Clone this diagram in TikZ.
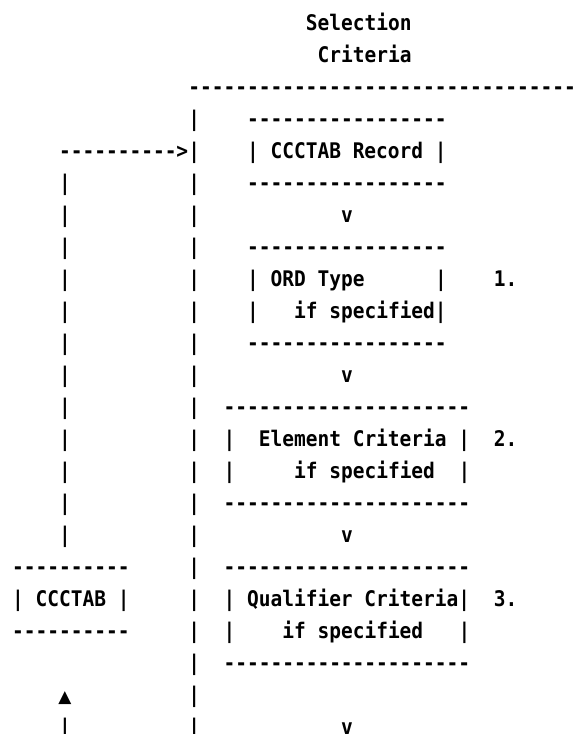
\documentclass[tikz,border=0pt]{standalone}
\usepackage{fontspec}
\setmonofont{DejaVu Sans Mono}[FakeStretch=0.907]
\newfontfamily\symfont{DejaVu Sans}
\tikzset{
  asc/.style={font=\ttfamily\bfseries\fontsize{21.5}{21.5}\selectfont, anchor=base west, inner sep=0pt, outer sep=0pt, text=black},
  tri/.style={font=\symfont\fontsize{17}{17}\selectfont, anchor=base, inner sep=0pt, outer sep=0pt, text=black}
}
\newcommand\asc[4]{\node[asc] (#1) at ({#2+1.03},{#3+0.9375}) {#4};}
\begin{document}
\begin{tikzpicture}[x=11.75pt, y=-32pt]
\fill[white] (0,0) rectangle (49.1064,22.9375);
\useasboundingbox (0,0) rectangle (49.1064,22.9375);
% title
\asc{sel}{25}{0}{Selection}
\asc{crit}{26}{1}{Criteria}
\asc{top}{15}{2}{---------------------------------}
% main vertical bar
\foreach \r in {3,...,22} {\asc{mb\r}{15}{\r}{|}}
% left vertical bar
\foreach \r in {5,...,16} {\asc{lb\r}{4}{\r}{|}}
\asc{lb22}{4}{22}{|}
\asc{arr}{4}{4}{---------->}
% CCCTAB Record box
\asc{b1t}{20}{3}{-----------------}
\asc{b1}{20}{4}{| CCCTAB Record |}
\asc{b1b}{20}{5}{-----------------}
\asc{v1}{28}{6}{v}
% ORD Type box
\asc{b2t}{20}{7}{-----------------}
\asc{b2a}{20}{8}{| ORD Type}
\asc{b2ar}{36}{8}{|}
\asc{n1}{41}{8}{1.}
\asc{b2bl}{20}{9}{|}
\asc{b2b}{24}{9}{if specified|}
\asc{b2e}{20}{10}{-----------------}
\asc{v2}{28}{11}{v}
% Element Criteria box
\asc{b3t}{18}{12}{---------------------}
\asc{b3al}{18}{13}{|}
\asc{b3a}{21}{13}{Element Criteria |}
\asc{n2}{41}{13}{2.}
\asc{b3bl}{18}{14}{|}
\asc{b3b}{24}{14}{if specified}
\asc{b3br}{38}{14}{|}
\asc{b3e}{18}{15}{---------------------}
\asc{v3}{28}{16}{v}
% Qualifier Criteria box
\asc{b4t}{18}{17}{---------------------}
\asc{b4a}{18}{18}{| Qualifier Criteria|}
\asc{n3}{41}{18}{3.}
\asc{b4bl}{18}{19}{|}
\asc{b4b}{23}{19}{if specified}
\asc{b4br}{38}{19}{|}
\asc{b4e}{18}{20}{---------------------}
\asc{v4}{28}{22}{v}
% CCCTAB box
\asc{c1t}{0}{17}{----------}
\asc{c1l}{0}{18}{|}
\asc{c1}{2}{18}{CCCTAB |}
\asc{c1b}{0}{19}{----------}
\node[tri] (up) at (4.5+1.03, 21.9375) {▲};
\end{tikzpicture}
\end{document}
